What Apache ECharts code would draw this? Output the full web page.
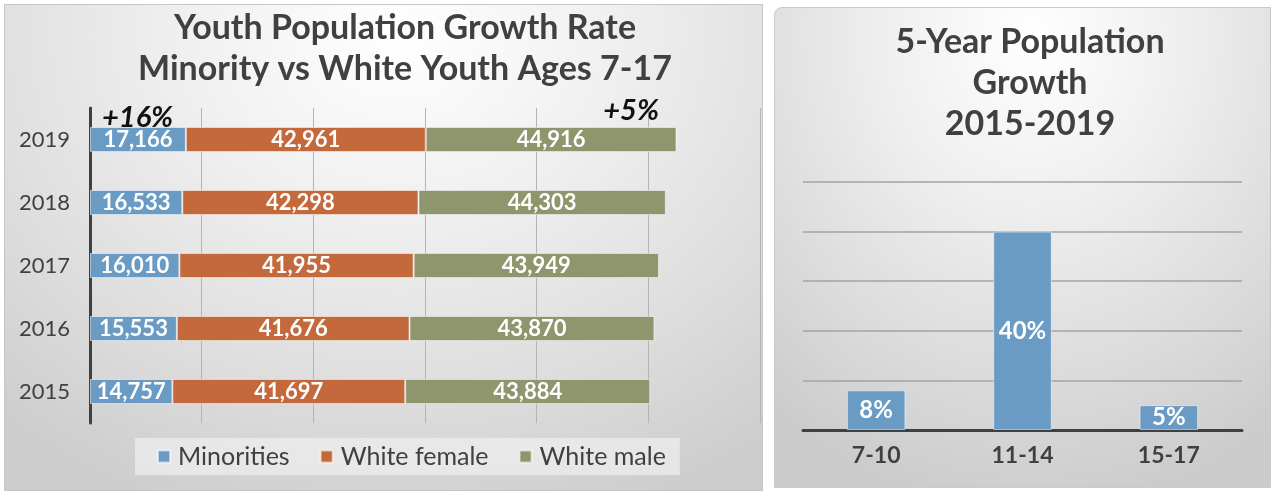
<!DOCTYPE html>
<html>
<head>
<meta charset="utf-8">
<script src="https://cdn.jsdelivr.net/npm/echarts@6/dist/echarts.min.js"></script>
<style>
  html, body { margin: 0; padding: 0; background: #ffffff; width: 1271px; height: 491px; overflow: hidden; }
  .panel { position: absolute; box-sizing: border-box; }
  #panelLeft {
    left: 4px; top: 4px; width: 759px; height: 487px;
    border: 1px solid #c6c6c6;
    background: radial-gradient(ellipse 80% 105% at 52% 6%, #ffffff 0%, #f0f0f0 35%, #dedede 70%, #cdcdcd 100%);
  }
  #panelRight {
    left: 774px; top: 7px; width: 497px; height: 481px;
    border: 1px solid #cacaca; border-top-left-radius: 8px;
    background: radial-gradient(ellipse 85% 100% at 52% 6%, #ffffff 0%, #efefef 35%, #dcdcdc 70%, #cbcbcb 100%);
  }
  #chart { position: absolute; left: 0; top: 0; width: 1271px; height: 491px; }
</style>
</head>
<body>
<div id="panelLeft" class="panel"></div>
<div id="panelRight" class="panel"></div>
<div id="chart"></div>
<script>
// Youth population by year (ages 7-17)
const years = ['2015', '2016', '2017', '2018', '2019'];
const minorities = [14757, 15553, 16010, 16533, 17166];
const whiteFemale = [41697, 41676, 41955, 42298, 42961];
const whiteMale = [43884, 43870, 43949, 44303, 44916];

// Five-year growth by age group, percent
const ageGroups = ['7-10', '11-14', '15-17'];
const growthPct = [8, 40, 5];

// Growth callouts above the 2019 bar
const callouts = ['+16%', '+5%'];

const FONT = 'Lato, "Open Sans", "DejaVu Sans", sans-serif';
const DARK = '#404040';
const BLUE = '#6a9bc4';
const ORANGE = '#c4693b';
const OLIVE = '#8f966d';

const fmt = v => Number(v).toLocaleString('en-US');

function stackSeries(name, data, color) {
  return {
    name: name,
    type: 'bar',
    stack: 'total',
    xAxisIndex: 0,
    yAxisIndex: 0,
    barWidth: '40%',
    data: data,
    itemStyle: { color: color, borderColor: 'rgba(255,255,255,0.55)', borderWidth: 1 },
    label: {
      show: true,
      position: 'inside',
      formatter: p => fmt(p.value),
      color: '#ffffff',
      fontFamily: FONT,
      fontWeight: 'bold',
      fontSize: 22
    }
  };
}

const chart = echarts.init(document.getElementById('chart'), null, { renderer: 'canvas' });

chart.setOption({
  backgroundColor: 'transparent',
  animation: false,
  textStyle: { fontFamily: FONT },
  grid: [
    { left: 90, right: 511, top: 108, bottom: 68 },
    { left: 803, right: 29, top: 182, bottom: 61 }
  ],
  xAxis: [
    {
      gridIndex: 0,
      type: 'value',
      min: 0,
      max: 120000,
      interval: 20000,
      axisLabel: { show: false },
      axisLine: { show: false },
      axisTick: { show: false },
      splitLine: { show: true, showMinLine: false, lineStyle: { color: '#b4b4b4', width: 1 } }
    },
    {
      gridIndex: 1,
      type: 'category',
      data: ageGroups,
      axisLine: { show: true, lineStyle: { color: DARK, width: 3 } },
      axisTick: { show: false },
      axisLabel: { color: DARK, fontFamily: FONT, fontWeight: 'bold', fontSize: 23, margin: 14 }
    }
  ],
  yAxis: [
    {
      gridIndex: 0,
      type: 'category',
      data: years,
      axisLine: { show: true, lineStyle: { color: DARK, width: 3 } },
      axisTick: { show: false },
      axisLabel: { color: DARK, fontFamily: FONT, fontSize: 22, margin: 20 }
    },
    {
      gridIndex: 1,
      type: 'value',
      min: 0,
      max: 50,
      interval: 10,
      axisLabel: { show: false },
      axisLine: { show: false },
      axisTick: { show: false },
      splitLine: { show: true, showMinLine: false, lineStyle: { color: '#a3a3a3', width: 1.5 } }
    }
  ],
  legend: {
    data: ['Minorities', 'White female', 'White male'],
    left: 135,
    top: 438,
    orient: 'horizontal',
    icon: 'rect',
    itemWidth: 12,
    itemHeight: 12,
    itemGap: 30,
    padding: [6, 14, 6, 22],
    backgroundColor: 'rgba(238,238,238,0.75)',
    textStyle: { color: DARK, fontFamily: FONT, fontSize: 25, padding: [0, 0, 0, 3] }
  },
  series: [
    stackSeries('Minorities', minorities, BLUE),
    stackSeries('White female', whiteFemale, ORANGE),
    stackSeries('White male', whiteMale, OLIVE),
    {
      name: '5-Year Growth',
      type: 'bar',
      xAxisIndex: 1,
      yAxisIndex: 1,
      barWidth: '40%',
      data: growthPct,
      itemStyle: { color: BLUE, borderColor: 'rgba(255,255,255,0.5)', borderWidth: 1 },
      label: {
        show: true,
        position: 'inside',
        formatter: p => p.value + '%',
        color: '#ffffff',
        fontFamily: FONT,
        fontWeight: 'bold',
        fontSize: 24
      }
    }
  ],
  graphic: [
    {
      type: 'text',
      z: 100,
      x: 405, y: 8,
      style: {
        text: 'Youth Population Growth Rate\nMinority vs White Youth Ages 7-17',
        textAlign: 'center',
        fill: DARK,
        font: 'bold 34px ' + FONT,
        lineHeight: 41
      }
    },
    {
      type: 'text',
      z: 100,
      x: 1030, y: 22,
      style: {
        text: '5-Year Population\nGrowth\n2015-2019',
        textAlign: 'center',
        fill: DARK,
        font: 'bold 34px ' + FONT,
        lineHeight: 41
      }
    },
    {
      type: 'text',
      z: 100,
      x: 102, y: 118,
      style: {
        text: callouts[0],
        textAlign: 'left',
        textVerticalAlign: 'middle',
        fill: '#111111',
        font: 'italic bold 29px ' + FONT
      }
    },
    {
      type: 'text',
      z: 100,
      x: 659, y: 111,
      style: {
        text: callouts[1],
        textAlign: 'right',
        textVerticalAlign: 'middle',
        fill: '#111111',
        font: 'italic bold 29px ' + FONT
      }
    }
  ]
});
</script>
</body>
</html>
